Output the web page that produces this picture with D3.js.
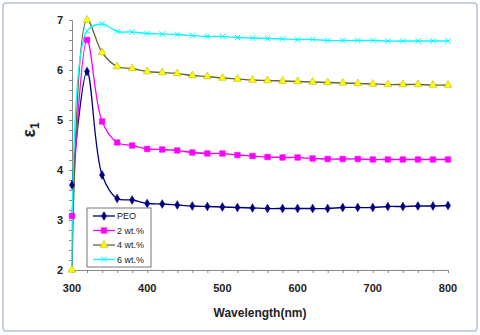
<!DOCTYPE html>
<html>
<head>
<meta charset="utf-8">
<script src="https://d3js.org/d3.v7.min.js"></script>
<style>
  body { margin: 0; background: #fff; }
  svg { display: block; font-family: Arial, "Liberation Sans", sans-serif; }
</style>
</head>
<body>
<script>
// wavelength (nm)
var wavelength = [300,320,340,360,380,400,420,440,460,480,500,520,540,560,580,600,620,640,660,680,700,720,740,760,780,800];

var peo  = [3.70,5.97,3.90,3.43,3.40,3.33,3.32,3.30,3.28,3.27,3.26,3.25,3.24,3.23,3.23,3.23,3.23,3.23,3.25,3.25,3.25,3.27,3.27,3.28,3.28,3.29];
var wt2  = [3.08,6.60,4.97,4.55,4.49,4.42,4.41,4.39,4.35,4.33,4.33,4.30,4.28,4.26,4.25,4.25,4.23,4.22,4.22,4.22,4.21,4.21,4.21,4.21,4.21,4.21];
var wt4  = [2.00,7.00,6.35,6.07,6.03,5.97,5.95,5.93,5.89,5.87,5.84,5.82,5.80,5.79,5.78,5.77,5.76,5.75,5.74,5.73,5.72,5.71,5.71,5.71,5.70,5.70];
var wt6  = [1.00,6.78,6.92,6.77,6.76,6.73,6.72,6.71,6.69,6.67,6.67,6.65,6.64,6.63,6.62,6.61,6.61,6.59,6.59,6.59,6.59,6.58,6.58,6.58,6.58,6.58];

var seriesNames = ["PEO", "2 wt.%", "4 wt.%", "6 wt.%"];
var xTicks = [300,400,500,600,700,800];
var yTicks = [2,3,4,5,6,7];

var W = 480, H = 335;
var pL = 72, pR = 448, pT = 20, pB = 270;

var svg = d3.select("body").append("svg").attr("width", W).attr("height", H);

// outer frame
svg.append("rect").attr("x", 3).attr("y", 3).attr("width", 474).attr("height", 328)
  .attr("rx", 3).attr("fill", "#fff").attr("stroke", "#b9c3d6").attr("stroke-width", 1.5);

var x = d3.scaleLinear().domain([300, 800]).range([pL, pR]);
var y = d3.scaleLinear().domain([2, 7]).range([pB, pT]);

svg.append("defs").append("clipPath").attr("id", "clip")
  .append("rect").attr("x", pL - 2).attr("y", pT - 6).attr("width", pR - pL + 8).attr("height", pB - pT + 6);

// axes
var axisColor = "#888";
var gx = svg.append("g").attr("transform", "translate(0," + pB + ")")
  .call(d3.axisBottom(x).tickValues(d3.range(300, 801, 20)).tickSize(3).tickFormat(""));
var gy = svg.append("g").attr("transform", "translate(" + pL + ",0)")
  .call(d3.axisLeft(y).tickValues(d3.range(2, 7.01, 0.2)).tickSize(3).tickFormat(""));
[gx, gy].forEach(function(g) {
  g.select(".domain").attr("stroke", axisColor);
  g.selectAll(".tick line").attr("stroke", axisColor);
});

svg.selectAll(".xlab").data(xTicks).enter().append("text")
  .attr("x", function(d) { return x(d); }).attr("y", 292)
  .attr("text-anchor", "middle").attr("font-size", 11).attr("font-weight", "bold")
  .attr("fill", "#222").text(function(d) { return d; });
svg.selectAll(".ylab").data(yTicks).enter().append("text")
  .attr("x", 63).attr("y", function(d) { return y(d) + 4; })
  .attr("text-anchor", "end").attr("font-size", 11).attr("font-weight", "bold")
  .attr("fill", "#222").text(function(d) { return d; });

svg.append("text").attr("x", (pL + pR) / 2).attr("y", 317)
  .attr("text-anchor", "middle").attr("font-size", 12).attr("font-weight", "bold")
  .attr("fill", "#222").text("Wavelength(nm)");

var yl = svg.append("text").attr("transform", "translate(35,130) rotate(-90)")
  .attr("text-anchor", "middle").attr("font-size", 18).attr("font-weight", "bold").attr("fill", "#222");
yl.append("tspan").text("ε");
yl.append("tspan").attr("font-size", 12).attr("dy", 4).text("1");

// series
var series = [
  { name: seriesNames[0], vals: peo, line: "#000080", fill: "#000080", stroke: "#000080", shape: d3.symbolDiamond, size: 22 },
  { name: seriesNames[1], vals: wt2, line: "#ff00ff", fill: "#ff00ff", stroke: "#ff00ff", shape: d3.symbolSquare, size: 30 },
  { name: seriesNames[2], vals: wt4, line: "#666633", fill: "#ffff00", stroke: "#b8b800", shape: d3.symbolTriangle, size: 26 },
  { name: seriesNames[3], vals: wt6, line: "#00ffff", fill: "none", stroke: "#00ffff", shape: d3.symbolX, size: 22 }
];

var line = d3.line()
  .x(function(d) { return x(d[0]); })
  .y(function(d) { return y(d[1]); })
  .curve(d3.curveCatmullRom.alpha(0.5));

var plot = svg.append("g").attr("clip-path", "url(#clip)");
var marks = svg.append("g");

series.forEach(function(s) {
  var pts = wavelength.map(function(w, i) { return [w, s.vals[i]]; });
  plot.append("path").datum(pts).attr("d", line)
    .attr("fill", "none").attr("stroke", s.line).attr("stroke-width", 1.3);
  marks.selectAll(null).data(pts.filter(function(d) { return d[1] >= 2; })).enter().append("path")
    .attr("transform", function(d) { return "translate(" + x(d[0]) + "," + y(d[1]) + ")"; })
    .attr("d", d3.symbol().type(s.shape).size(s.size))
    .attr("fill", s.fill).attr("stroke", s.stroke).attr("stroke-width", s.shape === d3.symbolX ? 1 : 0.6);
});

// legend
var lg = svg.append("g").attr("transform", "translate(87,208)");
lg.append("rect").attr("width", 64).attr("height", 59)
  .attr("fill", "#fff").attr("stroke", "#777").attr("stroke-width", 1);
series.forEach(function(s, i) {
  var ly = 8 + i * 14.5;
  lg.append("line").attr("x1", 6).attr("x2", 28).attr("y1", ly).attr("y2", ly)
    .attr("stroke", s.line).attr("stroke-width", 1.3);
  lg.append("path").attr("transform", "translate(17," + ly + ")")
    .attr("d", d3.symbol().type(s.shape).size(s.size))
    .attr("fill", s.fill).attr("stroke", s.stroke).attr("stroke-width", s.shape === d3.symbolX ? 1 : 0.6);
  lg.append("text").attr("x", 30).attr("y", ly + 3).attr("font-size", 9)
    .attr("fill", "#222").text(s.name);
});
</script>
</body>
</html>
